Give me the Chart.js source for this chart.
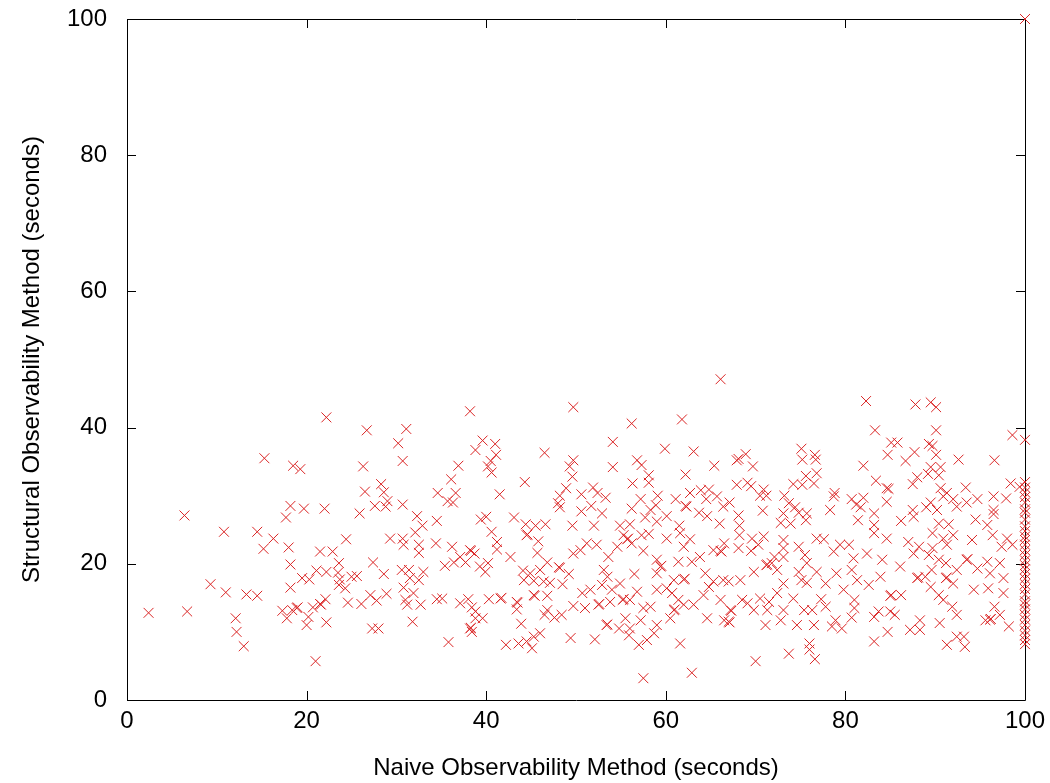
<!DOCTYPE html>
<html>
<head>
<meta charset="utf-8">
<script src="https://cdn.jsdelivr.net/npm/chart.js@4/dist/chart.umd.min.js"></script>
<style>
html,body{margin:0;padding:0;background:#fff;}
#wrap{width:1050px;height:783px;}
</style>
</head>
<body>
<div id="wrap"><canvas id="c" width="1050" height="783"></canvas></div>
<script>
// Axis settings
const xTitle = "Naive Observability Method (seconds)";
const yTitle = "Structural Observability Method (seconds)";
const axisMin = 0, axisMax = 100, axisStep = 20;

// [naive seconds, structural seconds]
const pointsLow = [
[2.4,12.8],[6.7,13.0],[9.3,17.0],[11.0,15.8],[13.3,15.5],[14.5,15.3],[12.1,12.0],[12.2,10.0],[13.0,7.9],[10.8,24.7],[14.5,24.7],[16.3,23.7],[15.2,22.2],[15.3,35.5],[6.4,27.1],
[22.2,41.5],[26.7,39.6],[31.1,39.8],[30.2,37.7],[30.7,35.1],[18.5,34.4],[19.3,33.9],[26.3,34.3],[26.5,30.6],[28.3,31.7],[28.6,30.5],[29.0,29.2],[18.2,28.5],[19.7,28.1],[22.0,28.1],[17.7,26.8],[25.9,27.4],[27.6,28.5],[28.8,28.4],[30.7,28.7],[32.3,27.0],[32.9,25.6],
[18.0,22.4],[24.4,23.6],[21.5,21.8],[22.9,21.8],[18.2,19.9],[23.6,20.1],[27.4,20.2],[29.3,23.7],[30.7,23.7],[30.8,22.8],[32.5,22.8],[32.5,21.6],[32.1,24.6],[28.6,18.5],[19.5,17.9],[20.3,17.7],[21.1,19.0],[22.2,18.8],[23.5,18.7],[23.7,17.7],[25.0,18.1],[25.6,18.2],[23.6,16.9],[24.3,16.4],[18.2,16.5],[30.6,19.1],[31.4,19.1],[31.5,17.9],[30.8,16.5],[32.5,17.6],[33.0,18.8],[22.1,14.8],[21.5,14.1],[21.6,14.0],[18.9,13.5],[19.0,13.6],[18.4,13.2],[17.3,13.1],[17.8,12.0],[20.0,11.0],[20.7,13.6],[20.2,12.2],[22.2,11.4],[24.6,14.3],[26.1,14.1],[27.1,15.4],[27.8,14.6],[28.9,15.6],[31.0,14.7],[31.2,14.0],[31.9,15.7],[32.7,14.0],[31.8,11.5],[27.3,10.5],[28.0,10.5],[21.0,5.7]
];
const pointsMid = [
[38.2,42.4],[49.7,43.0],[39.6,38.1],[41.0,37.6],[38.8,36.7],[41.1,36.0],[46.5,36.3],[40.5,35.1],[40.2,34.3],[40.6,33.4],[36.9,34.4],[36.1,32.4],[44.3,32.0],[34.6,30.4],[36.6,30.4],[35.7,29.2],[36.3,29.0],[41.5,30.2],[49.3,34.3],[49.7,35.2],[49.6,32.8],[48.9,31.1],[48.2,30.0],[48.0,28.9],[48.2,28.3],[34.5,26.3],[39.4,26.5],[40.0,26.9],[43.1,26.8],[44.4,25.8],[45.5,25.6],[46.6,25.8],[49.6,25.6],
[44.5,24.2],[44.6,24.3],[45.8,23.3],[40.6,24.7],[34.4,23.0],[36.2,22.5],[38.2,22.0],[38.3,21.9],[38.7,21.5],[41.2,23.2],[41.2,22.1],[42.7,21.0],[45.7,21.6],[37.1,21.0],[37.7,20.2],[35.4,19.7],[36.4,20.2],[39.3,19.6],[40.2,20.1],[39.9,18.8],[46.8,20.2],[48.1,19.5],[48.2,19.4],[49.2,18.5],[49.7,21.5],[44.1,19.0],[44.9,18.6],[46.0,19.1],[44.2,17.6],[45.3,17.5],[46.4,17.4],[47.1,17.2],[48.5,17.0],[34.5,14.8],[35.1,14.9],[37.1,14.2],[38.0,14.8],[38.4,13.6],[38.8,13.0],[40.3,14.8],[41.6,14.9],[41.7,15.0],[43.4,14.4],[43.5,14.3],[43.4,13.3],[45.3,15.4],[45.4,15.3],[46.8,15.3],[46.8,13.2],[46.5,12.5],[47.6,12.1],[48.4,12.5],[49.7,13.8],[38.8,12.0],[39.6,12.0],[38.2,10.5],[38.3,10.6],[38.4,10.0],[43.9,11.2],[35.8,8.5],[42.2,8.1],[43.6,8.3],[44.5,8.6],[45.1,7.6],[45.3,9.3],[46.0,9.8],[49.4,9.1],
[66.1,47.1],[56.2,40.6],[61.8,41.2],[54.1,37.9],[59.9,36.9],[63.1,36.5],[54.1,34.2],[56.8,35.2],[57.3,34.5],[65.4,34.4],[58.1,33.0],[58.1,31.9],[56.3,31.8],[62.2,33.1],[51.9,31.2],[52.4,30.4],[53.3,29.7],[50.6,30.2],[51.7,28.5],[50.6,27.7],[52.9,27.4],[57.2,29.5],[59.1,30.0],[58.9,28.6],[58.3,27.9],[56.2,28.1],[60.1,27.0],[61.1,29.5],[62.2,28.5],[62.3,28.4],[62.7,30.4],[63.9,30.8],[64.8,30.9],[65.7,29.9],[64.5,29.5],[63.7,27.5],[64.6,27.0],[66.4,28.4],[66.0,25.9],[52.0,25.6],[54.9,25.6],[56.0,25.8],[57.7,26.8],[59.0,26.2],[61.5,25.6],
[55.7,23.6],[55.8,23.7],[55.3,24.2],[56.2,23.0],[57.3,24.2],[58.1,24.4],[60.1,23.7],[61.6,24.5],[62.0,22.5],[62.7,23.6],[63.8,21.0],[65.3,22.0],[66.1,21.9],[66.2,21.8],[66.5,23.0],[51.2,23.0],[52.3,22.8],[50.5,22.0],[53.6,21.0],[54.6,22.5],[57.5,21.9],[59.0,20.6],[59.4,19.6],[59.5,19.7],[61.4,20.3],[62.9,20.3],[53.1,19.1],[53.5,18.1],[56.5,18.5],[59.0,18.6],[60.9,17.6],[62.0,17.7],[62.1,17.8],[64.4,18.6],[65.3,17.4],[66.4,17.6],[50.7,15.7],[51.6,16.2],[52.9,16.9],[54.0,16.2],[54.9,17.1],[55.2,14.7],[55.3,14.8],[53.8,14.4],[52.5,14.0],[52.6,14.1],[51.0,13.5],[56.8,15.9],[56.0,14.7],[57.5,13.5],[58.3,13.7],[59.0,16.2],[60.1,16.4],[60.7,15.7],[61.4,14.7],[62.0,14.0],[60.9,13.2],[61.0,13.3],[63.1,14.0],[64.2,15.4],[64.8,16.6],[66.1,14.7],[66.5,11.7],[53.4,11.0],[53.5,11.1],[54.8,10.5],[55.5,12.0],[56.0,10.5],[55.9,9.5],[57.2,11.7],[57.9,8.8],[57.0,8.1],[59.0,11.0],[58.7,9.8],[60.5,12.0],[64.6,12.0],[61.6,8.3],[52.1,8.9],[57.5,3.2],[62.9,4.0]
];
const pointsHigh = [
[82.3,43.9],[83.3,39.6],[75.1,36.9],[75.2,35.3],[76.6,36.0],[76.7,35.3],[68.9,36.1],[67.9,35.2],[68.1,35.4],[69.7,34.3],[82.0,34.4],[75.6,32.9],[76.8,33.3],[74.2,31.7],[75.2,31.6],[76.5,31.8],[83.4,32.2],[67.9,31.6],[69.1,31.9],[69.5,31.4],[70.9,30.9],[70.5,30.0],[71.2,30.0],[73.2,30.0],[78.8,30.4],[78.7,29.9],[80.7,29.5],[82.0,29.7],[81.2,28.7],[81.7,28.3],[67.1,29.0],[70.8,27.8],[68.1,27.1],[68.2,25.6],[73.7,28.9],[74.4,28.3],[74.8,27.5],[73.1,27.4],[75.7,27.4],[72.8,26.0],[73.9,25.9],[75.6,26.4],[78.3,27.9],[81.4,26.4],[83.2,27.4],[83.2,25.7],
[68.2,24.2],[69.6,23.7],[70.9,24.0],[70.3,22.8],[68.1,22.3],[69.5,21.9],[73.1,23.5],[73.1,22.3],[74.8,22.5],[76.8,23.7],[77.6,23.6],[78.7,21.8],[79.4,22.8],[80.4,22.8],[80.9,20.8],[83.2,24.5],[82.4,21.5],[72.1,21.0],[71.2,19.8],[71.3,19.9],[71.8,20.1],[72.4,19.1],[73.1,21.0],[75.5,21.3],[75.7,20.1],[74.8,18.8],[76.8,18.8],[77.8,17.1],[79.0,18.6],[80.7,19.1],[81.3,17.6],[82.6,16.9],[69.8,18.8],[68.3,17.6],[67.0,17.4],[75.1,17.6],[75.7,17.2],[79.8,16.2],[72.4,15.7],[73.1,17.1],[70.5,14.9],[68.5,14.7],[69.1,14.2],[71.5,14.4],[74.2,14.9],[77.3,14.8],[81.0,14.7],[77.8,13.7],[81.0,13.5],[67.2,13.2],[67.3,13.1],[67.0,11.5],[67.1,11.4],[69.8,13.2],[71.3,13.2],[73.1,13.2],[75.4,13.2],[76.3,13.2],[78.9,11.7],[79.6,10.5],[78.5,10.8],[71.1,11.0],[72.8,11.7],[74.6,11.0],[76.5,11.0],[80.7,12.1],[83.2,12.2],[83.2,8.6],[70.0,5.7],[73.7,6.8],[76.0,8.3],[76.0,7.4],[76.6,6.0],
[87.8,43.4],[89.5,43.7],[90.1,43.0],[90.1,39.6],[98.6,38.9],[85.1,37.8],[85.8,37.8],[89.3,37.6],[89.7,37.3],[84.7,36.0],[87.7,36.4],[90.1,36.0],[86.7,35.1],[92.6,35.3],[96.6,35.2],[89.5,34.2],[90.6,34.2],[89.2,33.2],[88.0,32.7],[90.4,33.0],[87.5,31.7],[84.6,31.1],[84.8,31.0],[90.6,31.1],[91.3,30.4],[93.4,31.2],[98.4,31.8],[99.4,31.3],[84.6,29.1],[90.9,29.9],[92.0,29.5],[94.7,29.5],[96.5,29.9],[97.9,29.6],[93.5,29.0],[89.5,29.0],[92.4,28.4],[90.2,27.9],[89.0,28.3],[87.5,27.9],[96.5,27.9],[96.5,27.3],[94.5,26.5],[86.2,26.3],[87.6,26.9],[90.4,25.9],[91.5,25.8],[95.8,25.7],
[84.6,23.7],[87.0,23.2],[88.2,22.5],[89.7,22.3],[90.9,23.7],[91.3,22.8],[92.0,24.2],[94.1,23.5],[96.4,24.2],[98.0,23.7],[98.6,22.8],[97.4,22.5],[84.1,20.6],[86.1,19.6],[87.6,21.5],[89.3,21.3],[90.4,20.6],[91.2,20.1],[93.5,20.6],[93.6,20.7],[94.7,19.3],[95.8,20.3],[97.2,20.1],[97.6,17.9],[96.1,18.6],[83.9,18.1],[88.0,17.9],[88.1,18.0],[88.9,18.1],[91.2,17.9],[91.3,18.0],[92.4,19.1],[89.6,19.1],[89.5,16.6],[94.3,16.2],[95.9,16.4],[97.6,15.7],[85.0,15.3],[85.1,15.4],[86.2,15.4],[90.4,15.4],[90.9,14.7],[92.0,17.1],[96.6,13.7],[96.1,11.8],[96.2,11.9],[95.6,11.7],[83.7,13.0],[85.0,13.0],[85.5,12.5],[88.3,11.7],[91.9,13.7],[92.4,12.5],[90.5,11.3],[98.2,10.8],[97.2,12.5],[84.7,10.0],[87.2,10.3],[88.3,10.3],[91.3,8.1],[92.4,9.3],[93.2,9.3],[93.3,7.8],[89.7,24.5]
];
// Runs that hit the 100 s limit of the naive method
const timeoutX = 100;
const timeoutY = [100,38.2,32.0,31.2,30.5,29.8,29.0,28.0,27.5,26.5,25.5,24.8,24.0,23.5,22.8,22.0,21.3,20.5,19.8,19.2,18.5,17.8,17.0,16.3,15.5,14.5,14.0,13.3,12.5,11.8,11.0,10.2,9.5,8.8,8.2];

const allData = []
  .concat(pointsLow, pointsMid, pointsHigh)
  .map(p => ({x: p[0], y: p[1]}))
  .concat(timeoutY.map(v => ({x: timeoutX, y: v})));

const FONT = {family: '"Liberation Sans", Arial, sans-serif', size: 24};

const framePlugin = {
  id: 'frame',
  beforeDatasetsDraw(chart) {
    const {ctx, chartArea: a, scales} = chart;
    ctx.save();
    ctx.strokeStyle = '#000';
    ctx.lineWidth = 1;
    ctx.beginPath();
    ctx.rect(Math.round(a.left) + 0.5, Math.round(a.top) + 0.5,
             Math.round(a.right - a.left), Math.round(a.bottom - a.top));
    const L = 9;
    scales.x.ticks.forEach(t => {
      const px = Math.round(scales.x.getPixelForValue(t.value)) + 0.5;
      ctx.moveTo(px, a.bottom); ctx.lineTo(px, a.bottom - L);
      ctx.moveTo(px, a.top); ctx.lineTo(px, a.top + L);
    });
    scales.y.ticks.forEach(t => {
      const py = Math.round(scales.y.getPixelForValue(t.value)) + 0.5;
      ctx.moveTo(a.left, py); ctx.lineTo(a.left + L, py);
      ctx.moveTo(a.right, py); ctx.lineTo(a.right - L, py);
    });
    ctx.stroke();
    ctx.restore();
  }
};

new Chart(document.getElementById('c'), {
  type: 'scatter',
  data: {
    datasets: [{
      data: allData,
      pointStyle: 'crossRot',
      pointRadius: 7,
      pointHoverRadius: 7,
      borderColor: 'rgb(218,36,36)',
      backgroundColor: 'rgb(218,36,36)',
      borderWidth: 1,
      clip: false
    }]
  },
  options: {
    responsive: false,
    animation: false,
    events: [],
    layout: {padding: {top: 19, right: 25, left: 0, bottom: 0}},
    plugins: {legend: {display: false}, tooltip: {enabled: false}},
    scales: {
      x: {
        type: 'linear', min: axisMin, max: axisMax,
        grid: {display: false, drawTicks: false},
        border: {display: false},
        ticks: {stepSize: axisStep, color: '#000', font: FONT, padding: 7, maxRotation: 0},
        title: {display: true, text: xTitle, color: '#000', font: FONT, padding: {top: 0, bottom: 0}},
        afterFit(s) { s.height = 83; s.paddingLeft = 0; s.paddingRight = 0; }
      },
      y: {
        type: 'linear', min: axisMin, max: axisMax,
        grid: {display: false, drawTicks: false},
        border: {display: false},
        ticks: {stepSize: axisStep, color: '#000', font: FONT, padding: 20},
        title: {display: true, text: yTitle, color: '#000', font: FONT, padding: {top: 18, bottom: 0}},
        afterFit(s) { s.width = 127; s.paddingTop = 0; s.paddingBottom = 0; }
      }
    }
  },
  plugins: [framePlugin]
});
</script>
</body>
</html>
